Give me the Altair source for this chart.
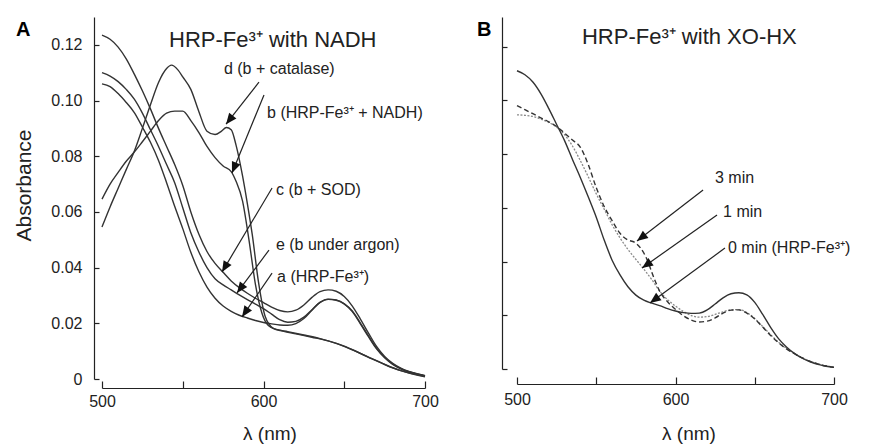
import math
import altair as alt
import pandas as pd

FONT = "Liberation Sans"
INK = "#222222"

# ---------------- Panel A : HRP-Fe3+ with NADH ----------------
WL_A = [500, 505, 510, 515, 520, 525, 530, 535, 540, 545, 550, 555, 560, 565, 570,
        575, 580, 585, 590, 595, 600, 605, 610, 615, 620, 625, 630, 635, 640, 645,
        650, 655, 660, 665, 670, 675, 680, 685, 690, 695, 700]
ABS_a = [0.1060, 0.1050, 0.1025, 0.0993, 0.0957, 0.0905, 0.0850, 0.0785, 0.0705, 0.0620,
         0.0540, 0.0455, 0.0385, 0.0330, 0.0290, 0.0262, 0.0243, 0.0229, 0.0219, 0.0210,
         0.0203, 0.0198, 0.0194, 0.0193, 0.0199, 0.0217, 0.0247, 0.0275, 0.0287, 0.0284,
         0.0270, 0.0242, 0.0198, 0.0152, 0.0108, 0.0076, 0.0052, 0.0036, 0.0025, 0.0017,
         0.0011]
ABS_e = [0.1100, 0.1088, 0.1068, 0.1040, 0.1005, 0.0955, 0.0895, 0.0835, 0.0770, 0.0705,
         0.0615, 0.0525, 0.0456, 0.0400, 0.0360, 0.0338, 0.0320, 0.0302, 0.0285, 0.0269,
         0.0253, 0.0233, 0.0213, 0.0204, 0.0207, 0.0222, 0.0249, 0.0275, 0.0286, 0.0283,
         0.0270, 0.0244, 0.0201, 0.0155, 0.0111, 0.0078, 0.0054, 0.0037, 0.0026, 0.0018,
         0.0012]
ABS_c = [0.1235, 0.1220, 0.1192, 0.1150, 0.1095, 0.1035, 0.0970, 0.0900, 0.0835, 0.0770,
         0.0695, 0.0600, 0.0520, 0.0458, 0.0415, 0.0383, 0.0352, 0.0328, 0.0308, 0.0290,
         0.0274, 0.0258, 0.0246, 0.0241, 0.0247, 0.0266, 0.0293, 0.0314, 0.0320, 0.0315,
         0.0296, 0.0262, 0.0215, 0.0165, 0.0117, 0.0081, 0.0056, 0.0039, 0.0027, 0.0019,
         0.0012]
WL_b = [500, 505, 510, 515, 520, 525, 530, 535, 540, 545, 550, 555, 560, 565, 570, 575,
        580, 583, 587, 591, 595, 599, 603, 608, 615, 625, 635, 645, 655, 665, 675, 685,
        695, 700]
ABS_b = [0.0646, 0.0700, 0.0742, 0.0782, 0.0815, 0.0852, 0.0890, 0.0928, 0.0955, 0.0962,
         0.0962, 0.0928, 0.0885, 0.0835, 0.0795, 0.0765, 0.0745, 0.0710, 0.0640, 0.0500,
         0.0340, 0.0237, 0.0192, 0.0178, 0.0170, 0.0158, 0.0145, 0.0128, 0.0105, 0.0078,
         0.0052, 0.0030, 0.0014, 0.0008]
WL_d = [500, 505, 510, 515, 520, 525, 530, 535, 540, 543, 547, 550, 555, 560, 565, 570,
        574, 577, 580, 583, 587, 590, 593, 597, 601, 606, 612, 620, 630, 640, 650, 660,
        670, 680, 690, 700]
ABS_d = [0.0546, 0.0618, 0.0685, 0.0752, 0.0818, 0.0900, 0.0985, 0.1065, 0.1115, 0.1127,
         0.1110, 0.1085, 0.1040, 0.0960, 0.0890, 0.0878, 0.0890, 0.0903, 0.0895, 0.0840,
         0.0730, 0.0630, 0.0520, 0.0344, 0.0225, 0.0182, 0.0172, 0.0162, 0.0150, 0.0137,
         0.0118, 0.0092, 0.0066, 0.0040, 0.0022, 0.0010]

LABELS_A = ["d (b + catalase)", "b (HRP-Fe³⁺ + NADH)", "c (b + SOD)",
            "e (b under argon)", "a (HRP-Fe³⁺)"]
LABEL_X_A = [575.5, 602.2, 607.7, 607.7, 608.4]
LABEL_Y_A = [0.1113, 0.0955, 0.0679, 0.0481, 0.0366]
ARROW_TAIL_X_A = [597.2, 600.3, 605.3, 603.4, 605.3]
ARROW_TAIL_Y_A = [0.1066, 0.1020, 0.0686, 0.0463, 0.0380]
ARROW_TIP_X_A = [576.8, 580.5, 574.3, 583.6, 586.7]
ARROW_TIP_Y_A = [0.0915, 0.0740, 0.0384, 0.0309, 0.0223]
TITLE_A = "HRP-Fe³⁺ with NADH"
TITLE_POS_A = (541.5, 0.1217)

# ---------------- Panel B : HRP-Fe3+ with XO-HX ----------------
WL_B = WL_A
ABS_0min = [0.1110, 0.1095, 0.1068, 0.1025, 0.0970, 0.0910, 0.0850, 0.0780, 0.0712, 0.0640,
            0.0565, 0.0480, 0.0405, 0.0350, 0.0306, 0.0275, 0.0256, 0.0245, 0.0236, 0.0225,
            0.0216, 0.0210, 0.0207, 0.0208, 0.0220, 0.0242, 0.0265, 0.0280, 0.0284, 0.0276,
            0.0248, 0.0203, 0.0155, 0.0113, 0.0082, 0.0058, 0.0040, 0.0027, 0.0017, 0.0010,
            0.0006]
ABS_1min = [0.0946, 0.0944, 0.0940, 0.0930, 0.0918, 0.0900, 0.0872, 0.0830, 0.0775, 0.0715,
            0.0652, 0.0595, 0.0537, 0.0488, 0.0445, 0.0408, 0.0372, 0.0333, 0.0290, 0.0258,
            0.0234, 0.0214, 0.0199, 0.0193, 0.0195, 0.0203, 0.0213, 0.0220, 0.0221, 0.0210,
            0.0188, 0.0158, 0.0128, 0.0100, 0.0077, 0.0058, 0.0042, 0.0029, 0.0019, 0.0012,
            0.0007]
WL_3min = [500, 505, 510, 515, 520, 526, 530, 535, 540, 545, 550, 555, 560, 565, 570, 574,
           578, 582, 586, 590, 595, 600, 605, 610, 615, 620, 625, 630, 635, 640, 645, 650,
           655, 660, 665, 670, 675, 680, 685, 690, 695, 700]
ABS_3min = [0.0980, 0.0965, 0.0950, 0.0935, 0.0920, 0.0898, 0.0878, 0.0852, 0.0825, 0.0760,
            0.0675, 0.0605, 0.0552, 0.0505, 0.0480, 0.0472, 0.0450, 0.0408, 0.0345, 0.0290,
            0.0250, 0.0222, 0.0198, 0.0182, 0.0175, 0.0178, 0.0190, 0.0208, 0.0219, 0.0220,
            0.0208, 0.0186, 0.0156, 0.0125, 0.0098, 0.0075, 0.0057, 0.0041, 0.0028, 0.0018,
            0.0011, 0.0006]

LABELS_B = ["3 min", "1 min", "0 min (HRP-Fe³⁺)"]
LABEL_X_B = [624.9, 630.0, 633.1]
LABEL_Y_B = [0.0711, 0.0584, 0.0450]
ARROW_TAIL_X_B = [617.4, 626.2, 631.2]
ARROW_TAIL_Y_B = [0.0666, 0.0573, 0.0450]
ARROW_TIP_X_B = [575.7, 578.9, 583.9]
ARROW_TIP_Y_B = [0.0476, 0.0376, 0.0246]
TITLE_B = "HRP-Fe³⁺ with XO-HX"
TITLE_POS_B = (541.0, 0.1236)

Y_TICKS = [0, 0.02, 0.04, 0.06, 0.08, 0.10, 0.12]
X_TICKS = [500, 550, 600, 650, 700]

# ---------------- layout constants ----------------
W_A, H_A, YMAX_A = 323, 362, 0.13
W_B, H_B, YMAX_B = 317, 352, 0.131
ARROW_PATH = "M0,0L0.42,1L-0.42,1Z"


def arrow_frame(tx, ty, hx, hy, w, h, ymax):
    sx, sy = w / 200.0, h / ymax
    angs = []
    for a, b, c, d in zip(tx, ty, hx, hy):
        dx = (c - a) * sx
        dy = -(d - b) * sy
        angs.append(math.degrees(math.atan2(dx, -dy)) % 360)
    return pd.DataFrame({"wl": tx, "A": ty, "wl2": hx, "A2": hy, "ang": angs})


def make_axes(w, h, ymax, xoff, yoff, show_ylabels, xlabpad, xtitle_y, xtitle_x):
    xs = alt.Scale(domain=[500, 700], nice=False, zero=False)
    ys = alt.Scale(domain=[0, ymax], nice=False, zero=False)
    xax = alt.Axis(orient="top", offset=-(h + xoff), values=X_TICKS, format="d",
                   labelExpr="datum.value % 100 == 0 ? datum.label : ''",
                   tickSize=7, labelBaseline="top", labelPadding=xlabpad,
                   labelFlush=False, labelOverlap=False, grid=False,
                   labelFont=FONT, labelFontSize=16, labelColor=INK,
                   domainColor=INK, tickColor=INK, domainWidth=1.2, tickWidth=1.2,
                   title="λ (nm)", titleX=xtitle_x, titleY=xtitle_y,
                   titleBaseline="middle", titleAlign="center", titleFont=FONT,
                   titleFontSize=19, titleFontWeight="normal", titleColor=INK)
    if show_ylabels:
        yax = alt.Axis(orient="right", offset=-(w + yoff), values=Y_TICKS,
                       tickSize=5, labelAlign="right", labelBaseline="middle",
                       labelPadding=-17,
                       labelExpr="datum.value == 0 ? '0' : format(datum.value, '.2f')",
                       labelFont=FONT, labelFontSize=16, labelColor=INK,
                       labelOverlap=False, labelFlush=False, grid=False,
                       domainColor=INK, tickColor=INK, domainWidth=1.2, tickWidth=1.2,
                       title="Absorbance", titleAngle=270, titleX=-70, titleY=168,
                       titleAlign="center", titleBaseline="middle", titleFont=FONT,
                       titleFontSize=21, titleFontWeight="normal", titleColor=INK)
    else:
        yax = alt.Axis(orient="right", offset=-(w + yoff), values=Y_TICKS,
                       tickSize=5, labels=False, title=None, grid=False,
                       domainColor=INK, tickColor=INK, domainWidth=1.2, tickWidth=1.2)

    def X(f):
        return alt.X(f, type="quantitative", scale=xs, axis=xax)

    def Y(f):
        return alt.Y(f, type="quantitative", scale=ys, axis=yax)
    return X, Y


def text_layers(X, Y, labels, lx, ly, title, tpos, letter, letter_x, letter_y):
    ldf = pd.DataFrame({"wl": lx, "A": ly, "t": labels})
    tdf = pd.DataFrame({"wl": [tpos[0]], "A": [tpos[1]], "t": [title]})
    lab = alt.Chart(ldf).mark_text(align="left", baseline="middle", font=FONT,
                                   fontSize=16, color=INK).encode(
        x=X("wl"), y=Y("A"), text="t:N")
    ttl = alt.Chart(tdf).mark_text(align="left", baseline="middle", font=FONT,
                                   fontSize=22, color=INK).encode(
        x=X("wl"), y=Y("A"), text="t:N")
    let = alt.Chart(pd.DataFrame({"t": [letter]})).mark_text(
        align="left", baseline="middle", font=FONT, fontSize=20,
        fontWeight="bold", color="#000000").encode(
        x=alt.value(letter_x), y=alt.value(letter_y), text="t:N")
    return [lab, ttl, let]


def arrow_layers(X, Y, adf):
    rule = alt.Chart(adf).mark_rule(color=INK, strokeWidth=1.2).encode(
        x=X("wl"), y=Y("A"), x2=alt.X2("wl2"), y2=alt.Y2("A2"))
    head = alt.Chart(adf).mark_point(shape=ARROW_PATH, filled=True, size=480,
                                     color="#111111", opacity=1, strokeWidth=0).encode(
        x=X("wl2"), y=Y("A2"), angle=alt.Angle("ang:Q", scale=None))
    return [rule, head]


# ---------------- Panel A chart ----------------
XA, YA = make_axes(W_A, H_A, YMAX_A, 9, 8, True, -12, 45, W_A / 2 + 6)
rows = []
for name, wl, vals in [("a", WL_A, ABS_a), ("c", WL_A, ABS_c), ("e", WL_A, ABS_e),
                       ("b", WL_b, ABS_b), ("d", WL_d, ABS_d)]:
    for x, y in zip(wl, vals):
        rows.append({"wl": x, "A": y, "s": name})
dfA = pd.DataFrame(rows)
linesA = alt.Chart(dfA).mark_line(interpolate="monotone", color="#333333",
                                  strokeWidth=1.4).encode(
    x=XA("wl"), y=YA("A"), detail="s:N")
adfA = arrow_frame(ARROW_TAIL_X_A, ARROW_TAIL_Y_A, ARROW_TIP_X_A, ARROW_TIP_Y_A,
                   W_A, H_A, YMAX_A)
panelA = alt.layer(
    linesA,
    *arrow_layers(XA, YA, adfA),
    *text_layers(XA, YA, LABELS_A, LABEL_X_A, LABEL_Y_A, TITLE_A, TITLE_POS_A,
                 "A", -86, 13),
).properties(width=W_A, height=H_A)

# ---------------- Panel B chart ----------------
XB, YB = make_axes(W_B, H_B, YMAX_B, 15, 15, False, -14, 49, W_B / 2 + 13)
df0 = pd.DataFrame({"wl": WL_B, "A": ABS_0min})
df1 = pd.DataFrame({"wl": WL_B, "A": ABS_1min})
df3 = pd.DataFrame({"wl": WL_3min, "A": ABS_3min})
l0 = alt.Chart(df0).mark_line(interpolate="monotone", color="#333333",
                              strokeWidth=1.4).encode(x=XB("wl"), y=YB("A"))
l1 = alt.Chart(df1).mark_line(interpolate="monotone", color="#8a8a8a",
                              strokeWidth=1.3, strokeDash=[2, 1.5]).encode(
    x=XB("wl"), y=YB("A"))
l3 = alt.Chart(df3).mark_line(interpolate="monotone", color="#333333",
                              strokeWidth=1.4, strokeDash=[5, 3]).encode(
    x=XB("wl"), y=YB("A"))
adfB = arrow_frame(ARROW_TAIL_X_B, ARROW_TAIL_Y_B, ARROW_TIP_X_B, ARROW_TIP_Y_B,
                   W_B, H_B, YMAX_B)
panelB = alt.layer(
    l1, l3, l0,
    *arrow_layers(XB, YB, adfB),
    *text_layers(XB, YB, LABELS_B, LABEL_X_B, LABEL_Y_B, TITLE_B, TITLE_POS_B,
                 "B", -40, 13),
).properties(width=W_B, height=H_B)

chart = alt.hconcat(panelA, panelB, spacing=38).properties(
    padding={"left": 5, "top": 9, "right": 5, "bottom": 5},
    background="white",
).configure_view(stroke=None)

chart.save("out.html", embed_options={"renderer": "svg", "actions": False})
